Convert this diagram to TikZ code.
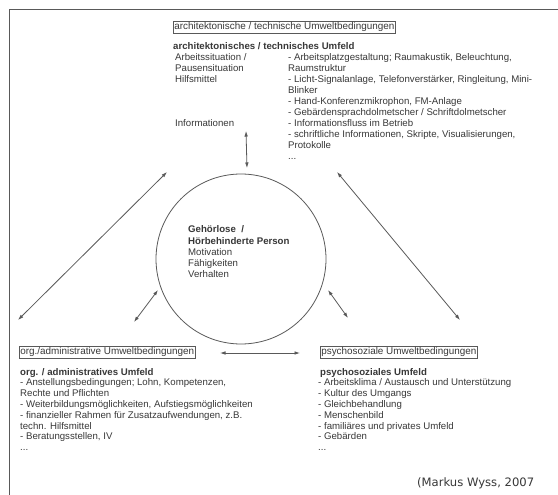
\documentclass[tikz,border=0pt]{standalone}
\usepackage{fontspec}
\setmainfont{Liberation Sans}
\newfontfamily\creditfont{DejaVu Sans}
\usetikzlibrary{arrows.meta}
\definecolor{textgray}{gray}{0.22}
\definecolor{linegray}{gray}{0.35}
\begin{document}
\begin{tikzpicture}[x=1pt,y=-1pt,
  txt/.style={text=textgray, inner sep=0pt, anchor=base west, font=\fontsize{9.65}{11}\selectfont},
  bld/.style={txt, font=\fontsize{9.65}{11}\selectfont\bfseries},
  lbl/.style={draw=linegray, line width=0.6pt, text=textgray, inner xsep=1pt, inner ysep=1.5pt, anchor=west, font=\fontsize{9.9}{11}\selectfont},
  arr/.style={draw=linegray, line width=0.8pt, {Latex[length=5.5pt,width=3.6pt]}-{Latex[length=5.5pt,width=3.6pt]}},
  person/.style={draw=linegray, line width=0.8pt, circle, minimum size=170pt, inner sep=0pt}]
\useasboundingbox (0,0) rectangle (558,495);
\fill[white] (0,0) rectangle (558,495);
% frame
\coordinate (fbl) at (9,495);
\coordinate (ftl) at (9,9);
\coordinate (ftr) at (558,9);
\draw[linegray, line width=0.9pt] (fbl) -- (ftl) -- (ftr);

% top block
\node[lbl] (topbox) at (173,27) {architektonische / technische Umweltbedingungen};
\node[bld] (toptitle) at (173,50) {architektonisches / technisches Umfeld};
\node[txt] (tl0) at (175,61) {Arbeitssituation /};
\node[txt] (tl1) at (175,72) {Pausensituation};
\node[txt] (tl2) at (175,83) {Hilfsmittel};
\node[txt] (tl3) at (175,127) {Informationen};
\foreach \t [count=\i from 0] in {
  {- Arbeitsplatzgestaltung; Raumakustik, Beleuchtung,},
  {Raumstruktur},
  {- Licht-Signalanlage, Telefonverstärker, Ringleitung, Mini-},
  {Blinker},
  {- Hand-Konferenzmikrophon, FM-Anlage},
  {- Gebärdensprachdolmetscher / Schriftdolmetscher},
  {- Informationsfluss im Betrieb},
  {- schriftliche Informationen, Skripte, Visualisierungen,},
  {Protokolle}}
  \node[txt] (tr\i) at (288,61+11*\i) {\t};
\node[txt] (trdots) at (288,160) {.{}.{}.};

% person circle
\node[person] (pers) at (241,259) {};
\node[bld] (p0) at (188,233) {Gehörlose\ \ /};
\node[bld] (p1) at (188,244) {Hörbehinderte Person};
\node[txt] (p2) at (188,255) {Motivation};
\node[txt] (p3) at (188,266) {Fähigkeiten};
\node[txt] (p4) at (188,277) {Verhalten};

% bottom left block
\node[lbl] (orgbox) at (19,352) {org./administrative Umweltbedingungen};
\node[bld] (orgtitle) at (20,375) {org. / administratives Umfeld};
\foreach \t [count=\i from 0] in {
  {- Anstellungsbedingungen; Lohn, Kompetenzen,},
  {Rechte und Pflichten},
  {- Weiterbildungsmöglichkeiten, Aufstiegsmöglichkeiten},
  {- finanzieller Rahmen für Zusatzaufwendungen, z.B.},
  {techn. Hilfsmittel},
  {- Beratungsstellen, IV}}
  \node[txt] (ol\i) at (20,385.8+10.8*\i) {\t};
\node[txt] (oldots) at (20,450.6) {.{}.{}.};

% bottom right block
\node[lbl] (psybox) at (320,352) {psychosoziale Umweltbedingungen};
\node[bld] (psytitle) at (320,375) {psychosoziales Umfeld};
\foreach \t [count=\i from 0] in {
  {- Arbeitsklima / Austausch und Unterstützung},
  {- Kultur des Umgangs},
  {- Gleichbehandlung},
  {- Menschenbild},
  {- familiäres und privates Umfeld},
  {- Gebärden}}
  \node[txt] (pl\i) at (318,385.8+10.8*\i) {\t};
\node[txt] (pldots) at (318,450.6) {.{}.{}.};

% credit
\node[txt, font=\creditfont\fontsize{11.6}{13}\selectfont] (credit) at (417,486) {(Markus Wyss, 2007};

% arrows
\coordinate (a1s) at (246,131);
\coordinate (a1e) at (247,168);
\coordinate (a2s) at (18,320);
\coordinate (a2e) at (167,172);
\coordinate (a3s) at (337,172);
\coordinate (a3e) at (460,320);
\coordinate (a4s) at (134,322);
\coordinate (a4e) at (158,290);
\coordinate (a5s) at (328,290);
\coordinate (a5e) at (348,318);
\coordinate (a6s) at (220,353);
\coordinate (a6e) at (300,353);
\draw[arr] (a1s) -- (a1e);
\draw[arr] (a2s) -- (a2e);
\draw[arr] (a3s) -- (a3e);
\draw[arr] (a4s) -- (a4e);
\draw[arr] (a5s) -- (a5e);
\draw[arr] (a6s) -- (a6e);
\end{tikzpicture}
\end{document}
